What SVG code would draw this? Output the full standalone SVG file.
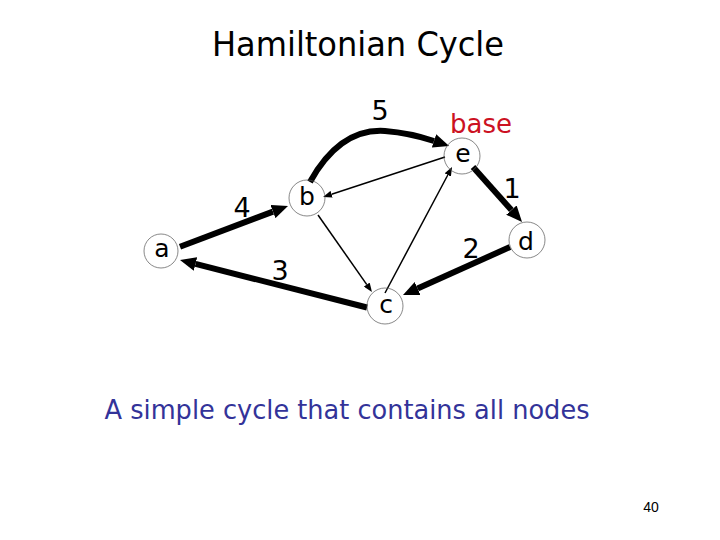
<svg xmlns="http://www.w3.org/2000/svg" width="720" height="540" viewBox="0 0 720 540">
<defs>
<style>
.t{font-family:"DejaVu Sans","Liberation Sans",sans-serif;fill:#000}
.lab{font-size:25px;text-anchor:middle}
.num{font-size:27px;text-anchor:middle}
.node circle{fill:none;stroke:#555;stroke-width:0.7}
.thick{fill:none;stroke:#000;stroke-width:6}
.thin{fill:none;stroke:#000;stroke-width:1.5}
</style>
<marker id="ah" markerUnits="userSpaceOnUse" viewBox="0 -7 16 14" markerWidth="16" markerHeight="14" refX="0" refY="0" orient="auto"><path d="M0,-7 L16,0 L0,7 z" fill="#000"/></marker>
<marker id="as" markerUnits="userSpaceOnUse" viewBox="0 -3.5 9 7" markerWidth="9" markerHeight="7" refX="0" refY="0" orient="auto"><path d="M0,-3.5 L9,0 L0,3.5 z" fill="#000"/></marker>
</defs>
<rect width="720" height="540" fill="#fff"/>
<text class="t" x="358" y="56" font-size="33" text-anchor="middle" textLength="292" lengthAdjust="spacingAndGlyphs">Hamiltonian Cycle</text>
<g id="edges">
<path class="thick" d="M180,246.7 L273,211.6" marker-end="url(#ah)"/>
<path class="thick" d="M367,307.5 L195.5,263.9" marker-end="url(#ah)"/>
<path class="thick" d="M310,182 Q340,128 385,131 Q410,133 434,141" marker-end="url(#ah)"/>
<path class="thin" d="M445,157 L331.6,194.2" marker-end="url(#as)"/>
<path class="thin" d="M318,215 L366.8,284.6" marker-end="url(#as)"/>
<path class="thin" d="M385,293 L447.8,175" marker-end="url(#as)"/>
<path class="thick" d="M473,167 L511.4,210.1" marker-end="url(#ah)"/>
<path class="thick" d="M510,247 L417.6,288.5" marker-end="url(#ah)"/>
</g>
<g id="edge-labels">
<text class="t num" x="242" y="217">4</text>
<text class="t num" x="380" y="120">5</text>
<text class="t num" x="512" y="198">1</text>
<text class="t num" x="471" y="258">2</text>
<text class="t num" x="280" y="280">3</text>
</g>
<g id="node-a" class="node"><circle cx="161" cy="251" r="17"/><text class="t lab" x="162" y="257">a</text></g>
<g id="node-b" class="node"><circle cx="307" cy="198" r="18"/><text class="t lab" x="307" y="205">b</text></g>
<g id="node-e" class="node"><circle cx="462" cy="156" r="18"/><text class="t lab" x="463" y="162">e</text></g>
<g id="node-d" class="node"><circle cx="527" cy="240" r="18"/><text class="t lab" x="526" y="250">d</text></g>
<g id="node-c" class="node"><circle cx="385" cy="306" r="18"/><text class="t lab" x="386" y="313">c</text></g>
<text class="t" x="481" y="133" font-size="26" text-anchor="middle" style="fill:#cc1122">base</text>
<text class="t" x="347" y="419" font-size="27" text-anchor="middle" textLength="485" lengthAdjust="spacingAndGlyphs" style="fill:#333399">A simple cycle that contains all nodes</text>
<text x="651" y="512" font-family="Liberation Sans, sans-serif" font-size="14" text-anchor="middle" fill="#000">40</text>
</svg>
